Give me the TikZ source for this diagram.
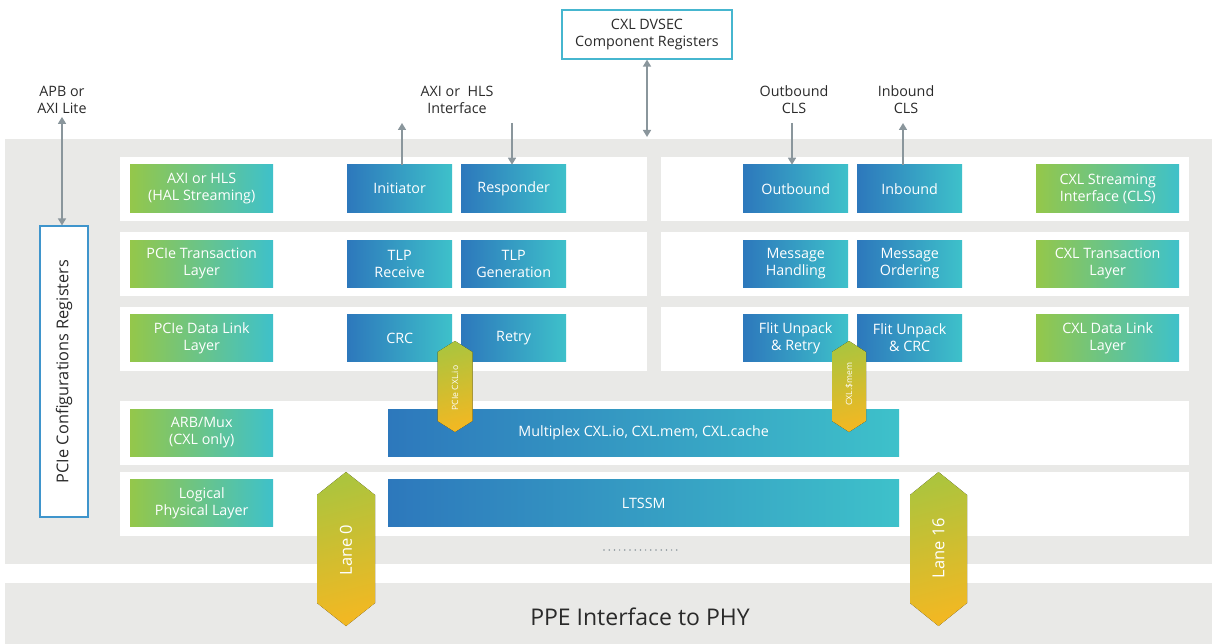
\documentclass[tikz,border=0pt]{standalone}
\usepackage{fontspec}
\setmainfont{Open Sans}
\usetikzlibrary{arrows.meta}
\definecolor{bgg}{HTML}{E9E9E7}
\definecolor{bl}{HTML}{2D78BC}
\definecolor{cy}{HTML}{3EC1CA}
\definecolor{gr}{HTML}{94C74A}
\definecolor{hy1}{HTML}{ADC43D}
\definecolor{hy2}{HTML}{F1B823}
\definecolor{ag}{HTML}{8A969C}
\definecolor{txt}{HTML}{2A2A2A}
\definecolor{dv}{HTML}{46B6CF}
\definecolor{cfgc}{HTML}{3F95CC}
\newcommand\myhex[5]{%
  \fill[top color=hy1, bottom color=hy2, shading angle=15] (#1,#2) -- (#1+#4,#2+#5) -- (#1+#4,#3-#5) -- (#1,#3) -- (#1-#4,#3-#5) -- (#1-#4,#2+#5) -- cycle;}
\begin{document}
\begin{tikzpicture}[x=1pt,y=-1pt,
  lbl/.style={font=\fontsize{14.3}{17}\selectfont, text=txt, align=center, inner sep=0},
  bbox/.style={anchor=north west, minimum width=105, minimum height=47.5, inner sep=0,
    left color=bl, right color=cy, text=white, align=center, font=\fontsize{14.3}{17}\selectfont},
  gbox/.style={bbox, minimum width=143, left color=gr, right color=cy},
  wbox/.style={bbox, minimum width=511},
  arr/.style={draw=ag, line width=1.6, -{Triangle[length=7,width=8]}},
  darr/.style={draw=ag, line width=1.6, {Triangle[length=7,width=8]}-{Triangle[length=7,width=8]}},
  hexlbl/.style={text=white, rotate=90, inner sep=0}
]
\useasboundingbox (0,0) rectangle (1212,644);
% gray backgrounds
\fill[bgg] (5,139) rectangle (1212,563.7);
\fill[bgg] (5,583) rectangle (1212,644);
% white panels
\fill[white] (120,157) rectangle (647,220.7);
\fill[white] (661,157) rectangle (1189,220.7);
\fill[white] (120,232) rectangle (647,295.7);
\fill[white] (661,232) rectangle (1189,295.7);
\fill[white] (120,307) rectangle (647,370.7);
\fill[white] (661,307) rectangle (1189,370.7);
\fill[white] (120,401) rectangle (1189,465);
\fill[white] (120,472) rectangle (1189,535.7);

% top labels
\node[lbl] (apb) at (62,100) {APB or\\AXI Lite};
\node[lbl] (axiif) at (457,100) {AXI or~~HLS\\Interface};
\node[lbl] (outcls) at (794,100) {Outbound\\CLS};
\node[lbl] (incls) at (906,100) {Inbound\\CLS};
\node[lbl, draw=dv, line width=1.2, fill=white, minimum width=170, minimum height=49] (dvsec) at (647,34.5) {CXL DVSEC\\Component Registers};

% config registers
\node[draw=cfgc, line width=1.2, fill=white, minimum width=48, minimum height=291, inner sep=0] (cfg) at (64,371.5) {};
\node[hexlbl, text=txt, font=\fontsize{16.3}{18}\selectfont] (cfgt) at (cfg.center) {PCIe Configurations Registers};

% left green boxes
\node[gbox] (g1) at (130,164.7) {AXI or HLS\\(HAL Streaming)};
\node[gbox] (g2) at (130,240) {PCIe Transaction\\Layer};
\node[gbox] (g3) at (130,314) {PCIe Data Link\\Layer};
\node[gbox] (g4) at (130,409) {ARB/Mux\\(CXL only)};
\node[gbox] (g5) at (130,479) {Logical\\Physical Layer};
% right green boxes
\node[gbox] (r1) at (1036,164.7) {CXL Streaming\\Interface (CLS)};
\node[gbox] (r2) at (1036,240) {CXL Transaction\\Layer};
\node[gbox] (r3) at (1036,314) {CXL Data Link\\Layer};

% blue boxes
\node[bbox] (init) at (347,164.7) {Initiator};
\node[bbox] (resp) at (461,164.7) {Responder};
\node[bbox] (tlpr) at (347,240) {TLP\\Receive};
\node[bbox] (tlpg) at (461,240) {TLP\\Generation};
\node[bbox] (crc) at (347,314) {CRC};
\node[bbox] (retry) at (461,314) {Retry};
\node[bbox] (outb) at (743,164.7) {Outbound};
\node[bbox] (inb) at (857,164.7) {Inbound};
\node[bbox] (mh) at (743,240) {Message\\Handling};
\node[bbox] (mo) at (857,240) {Message\\Ordering};
\node[bbox] (fr) at (743,314) {Flit Unpack\\\& Retry};
\node[bbox] (fc) at (857,314) {Flit Unpack\\\& CRC};
\node[wbox] (mux) at (388,409) {Multiplex CXL.io, CXL.mem, CXL.cache};
\node[wbox] (ltssm) at (388,479) {LTSSM};

% arrows
\coordinate (dvend) at (647,137);
\draw[darr] (dvsec.south) -- (dvend);
\draw[darr] ([yshift=-3]apb.south) -- (apb.south |- cfg.north);
\coordinate (initend) at (402,123);
\draw[arr] (initend |- init.north) -- (initend);
\coordinate (respstart) at (512,123);
\draw[arr] (respstart) -- (respstart |- resp.north);
\coordinate (outstart) at (792,123);
\draw[arr] (outstart) -- (outstart |- outb.north);
\coordinate (inend) at (903,123);
\draw[arr] (inend |- inb.north) -- (inend);

% dots
\foreach \i in {0,...,14} \fill[ag] (604+5.2*\i,550) circle (0.85);

% hexagons
\myhex{455}{341}{432}{17.5}{11}
\node[hexlbl, font=\fontsize{8.6}{10}\selectfont] (pcieio) at (455,388) {PCIe CXL.io};
\myhex{849}{341}{432}{17}{11}
\node[hexlbl, font=\fontsize{8.6}{10}\selectfont] (cxlmem) at (849,384) {CXL.\$mem};
\myhex{346}{472}{626}{29}{23}
\node[hexlbl, font=\fontsize{16.5}{18}\selectfont] (lane0) at (346,550) {Lane 0};
\myhex{938.5}{472}{626}{28.5}{23}
\node[hexlbl, font=\fontsize{16.5}{18}\selectfont] (lane16) at (938.5,548) {Lane 16};

% PPE
\node[text=txt, font=\fontsize{23}{26}\selectfont, inner sep=0] (ppe) at (640,617) {PPE Interface to PHY};
\end{tikzpicture}
\end{document}
